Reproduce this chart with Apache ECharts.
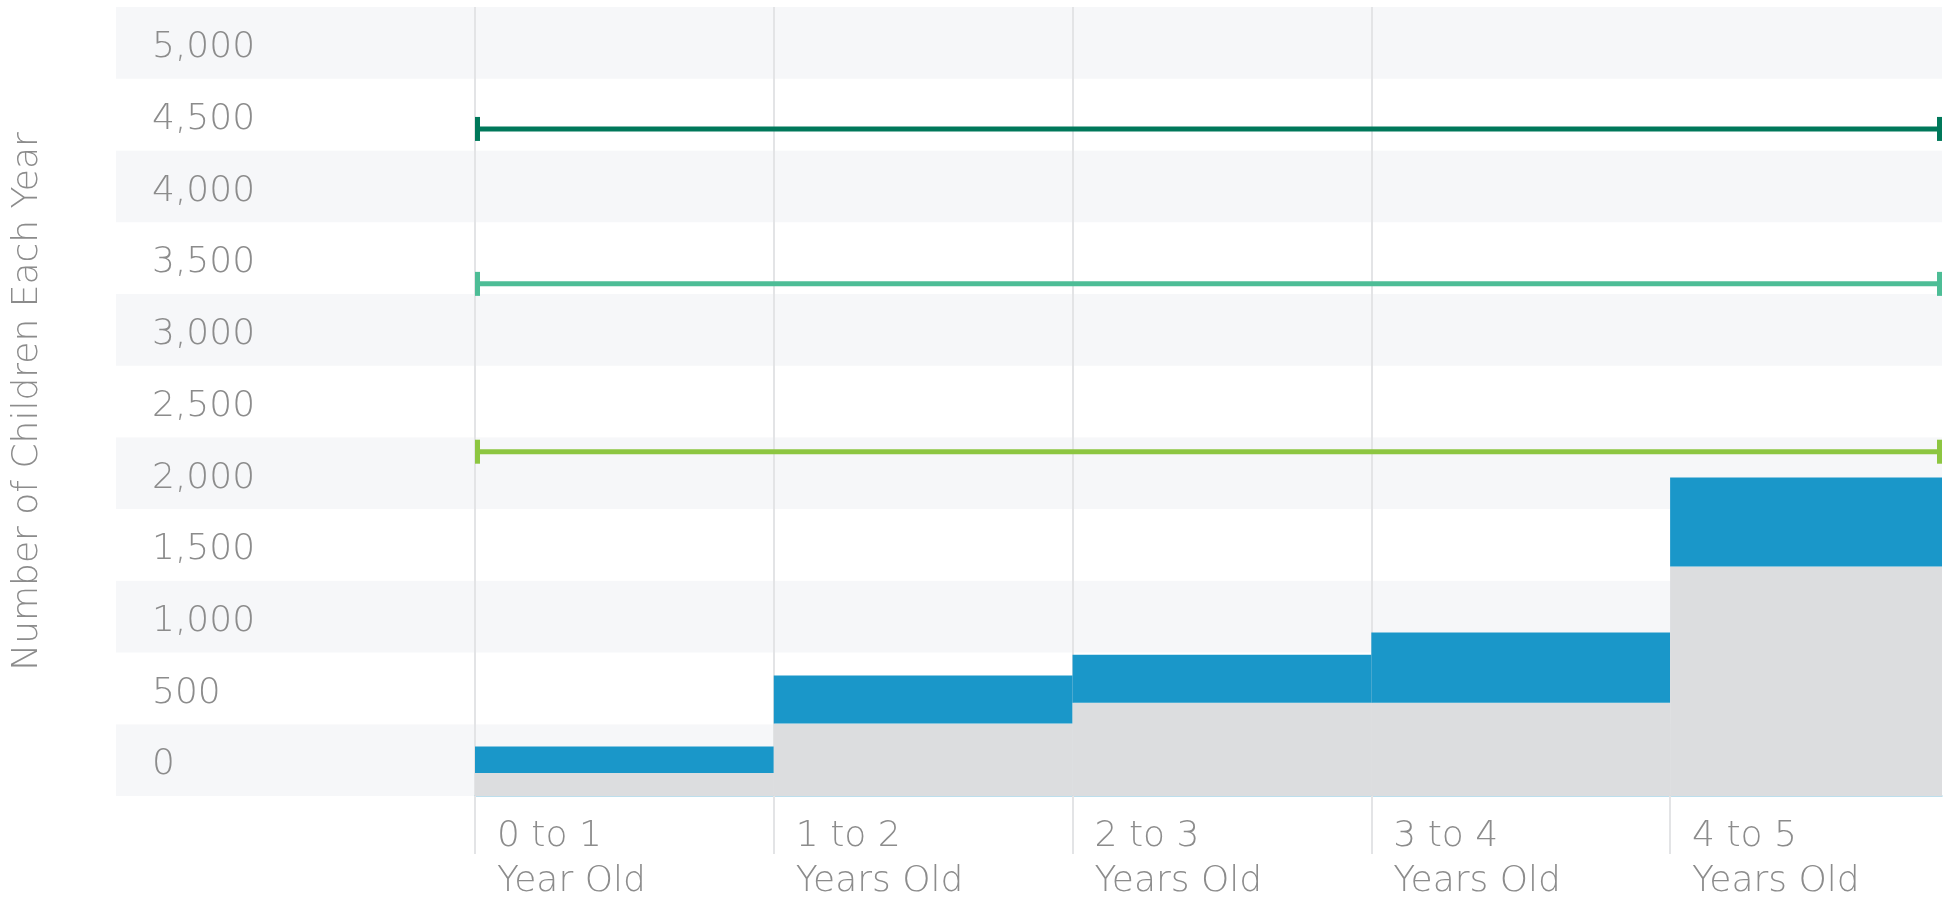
<!DOCTYPE html>
<html>
<head>
<meta charset="utf-8">
<script src="https://cdn.jsdelivr.net/npm/echarts@6/dist/echarts.min.js"></script>
<style>
  html, body { margin: 0; padding: 0; background: #fff; }
  #chart { width: 1949px; height: 900px; }
</style>
</head>
<body>
<div id="chart"></div>
<script>
// age groups along the bottom (two lines each)
const ageLabels = [
  ['0 to 1', 'Year Old'],
  ['1 to 2', 'Years Old'],
  ['2 to 3', 'Years Old'],
  ['3 to 4', 'Years Old'],
  ['4 to 5', 'Years Old']
];
// gray part and blue part stacked on top of it
const baseCounts = [160, 505, 650, 650, 1600];
const addedCounts = [185, 335, 335, 490, 620];
// horizontal reference levels
const thresholds = [4650, 3570, 2400];
const thresholdColors = ['#00785a', '#4dbd96', '#8dc641'];
// band labels, bottom to top
const yTickLabels = ['0', '500', '1,000', '1,500', '2,000', '2,500', '3,000', '3,500', '4,000', '4,500', '5,000'];

const FONT = 'DejaVu Sans';
const GREY_TEXT = '#8c8c8c';
const GRID_LINE = '#e3e4e6';

let chart = echarts.init(document.getElementById('chart'), null, { renderer: 'canvas' });

function clipTo(params, rect) {
  let cs = params.coordSys;
  return echarts.graphic.clipRectByRect(rect, { x: cs.x, y: cs.y, width: cs.width, height: cs.height });
}

function renderStep(params, api) {
  let i = api.value(0);
  let base = api.value(1);
  let added = api.value(2);
  let p0 = api.coord([i, 0]);
  let p1 = api.coord([i + 1, base]);
  let p2 = api.coord([i + 1, base + added]);
  let grayRect = clipTo(params, { x: p0[0], y: p1[1], width: p1[0] - p0[0], height: p0[1] - p1[1] });
  let blueRect = clipTo(params, { x: p0[0], y: p2[1], width: p2[0] - p0[0], height: p1[1] - p2[1] });
  return {
    type: 'group',
    children: [
      { type: 'rect', shape: grayRect, style: { fill: '#dcdddf' } },
      { type: 'rect', shape: blueRect, style: { fill: '#1a97c9' } }
    ]
  };
}

function renderThreshold(params, api) {
  let cs = params.coordSys;
  let y = api.coord([0, api.value(0)])[1];
  let color = thresholdColors[params.dataIndex];
  let x0 = cs.x, x1 = cs.x + cs.width;
  return {
    type: 'group',
    children: [
      { type: 'line', shape: { x1: x0, y1: y, x2: x1, y2: y }, style: { stroke: color, lineWidth: 5 } },
      { type: 'rect', shape: { x: x0, y: y - 12, width: 5, height: 24 }, style: { fill: color } },
      { type: 'rect', shape: { x: x1 - 5, y: y - 12, width: 5, height: 24 }, style: { fill: color } }
    ]
  };
}

const tickValues = ageLabels.map((_, i) => i);

let option = {
  animation: false,
  grid: [
    { left: 116, right: 7, top: 7, bottom: 104, containLabel: false, outerBoundsMode: 'none' },
    { left: 475, right: 7, top: 7, bottom: 104, containLabel: false, outerBoundsMode: 'none' }
  ],
  xAxis: [
    { type: 'value', gridIndex: 0, show: false, min: 0, max: 1 },
    {
      type: 'value', gridIndex: 1, min: 0, max: 4.91, interval: 1, z: 1,
      axisLine: { show: true, lineStyle: { color: '#a8d4e6', width: 1.5 } },
      axisTick: { show: true, length: 58, customValues: tickValues, lineStyle: { color: GRID_LINE, width: 2 } },
      splitLine: { show: true, showMaxLine: false, lineStyle: { color: GRID_LINE, width: 2 } },
      axisLabel: {
        customValues: tickValues,
        align: 'left',
        padding: [0, 0, 0, 22],
        margin: 18,
        lineHeight: 45,
        fontSize: 36,
        fontFamily: FONT,
        fontWeight: 200,
        color: GREY_TEXT,
        formatter: v => ageLabels[v] ? ageLabels[v].join('\n') : ''
      }
    }
  ],
  yAxis: [
    {
      type: 'category', gridIndex: 0, data: yTickLabels, boundaryGap: true,
      axisLine: { show: false }, axisTick: { show: false }, splitLine: { show: false },
      splitArea: { show: true, areaStyle: { color: ['#f6f7f9', '#ffffff'] } },
      axisLabel: {
        inside: true, margin: 36,
        fontSize: 36, fontFamily: FONT, fontWeight: 200, color: GREY_TEXT,
        formatter: v => '{n|' + v + '}',
        rich: { n: { padding: [10, 0, 0, 0], fontSize: 36, fontFamily: FONT, fontWeight: 200, color: GREY_TEXT } }
      },
      name: 'Number of Children Each Year',
      nameLocation: 'middle',
      nameGap: 70,
      nameRotate: 90,
      nameTextStyle: { fontSize: 36, fontFamily: FONT, fontWeight: 200, color: GREY_TEXT }
    },
    { type: 'value', gridIndex: 1, min: 0, max: 5500, show: false }
  ],
  series: [
    {
      type: 'custom', xAxisIndex: 1, yAxisIndex: 1,
      renderItem: renderStep,
      encode: { x: 0, y: [1, 2] },
      data: baseCounts.map((b, i) => [i, b, addedCounts[i]])
    },
    {
      type: 'custom', xAxisIndex: 1, yAxisIndex: 1, z: 3,
      renderItem: renderThreshold,
      encode: { y: 0 },
      data: thresholds.map(v => [v])
    }
  ]
};

chart.setOption(option);
</script>
</body>
</html>
